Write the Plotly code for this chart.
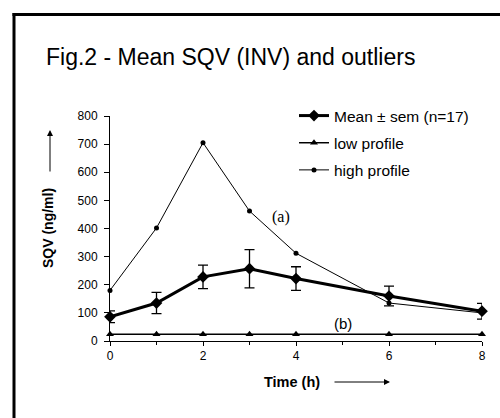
import plotly.graph_objects as go

time_h = [0, 1, 2, 3, 4, 6, 8]
mean_sqv = [86, 135, 228, 257, 222, 160, 106]
mean_sem = [21, 38, 42, 68, 42, 35, 28]
low_profile = [24, 24, 24, 24, 24, 24, 24]
high_profile = [180, 402, 705, 462, 312, 135, 100]
x_ticks = [0, 2, 4, 6, 8]
y_ticks = [0, 100, 200, 300, 400, 500, 600, 700, 800]

W, H = 500, 418
L, R, T, B = 110, 18, 116, 77
pw, ph = W - L - R, H - T - B

def px2paper_x(px):
    return (px - L) / pw

def px2paper_y(py):
    return (H - B - py) / ph

fig = go.Figure()
fig.add_trace(go.Scatter(
    x=time_h, y=mean_sqv, name="Mean ± sem (n=17)", legendgroup="a",
    mode="lines+markers",
    line=dict(color="black", width=3),
    marker=dict(symbol="diamond", size=9, color="black"),
    error_y=dict(type="data", array=mean_sem, visible=True, color="black", thickness=1.3, width=5),
    cliponaxis=False,
))
fig.add_trace(go.Scatter(
    x=time_h, y=low_profile, name="low profile", legendgroup="b",
    mode="lines+markers",
    line=dict(color="black", width=1.5),
    marker=dict(symbol="triangle-up", size=7, color="black"),
    cliponaxis=False,
))
fig.add_trace(go.Scatter(
    x=time_h, y=high_profile, name="high profile", legendgroup="c",
    mode="lines+markers",
    line=dict(color="black", width=1),
    marker=dict(symbol="circle", size=5, color="black"),
    cliponaxis=False,
))

fig.update_layout(
    width=W, height=H,
    margin=dict(l=L, r=R, t=T, b=B, pad=0),
    paper_bgcolor="white", plot_bgcolor="white",
    font=dict(family="Liberation Sans, Arial, sans-serif", color="black"),
    showlegend=True,
    legend=dict(
        x=px2paper_x(294), y=px2paper_y(99), xanchor="left", yanchor="top",
        font=dict(size=15.5, color="black"), bgcolor="rgba(0,0,0,0)",
        tracegroupgap=4, itemwidth=30,
    ),
    xaxis=dict(
        range=[0, 8], tickvals=x_ticks, showgrid=False, zeroline=False,
        showline=True, linecolor="black", linewidth=1,
        ticks="outside", ticklen=4, tickcolor="black",
        minor=dict(dtick=1, ticks="outside", ticklen=3, tickcolor="black"),
        tickfont=dict(size=12, color="black"),
    ),
    yaxis=dict(
        range=[0, 800], tickvals=y_ticks, showgrid=False, zeroline=False,
        showline=True, linecolor="black", linewidth=1,
        ticks="outside", ticklen=5, tickcolor="black", ticklabelstandoff=4,
        tickfont=dict(size=12, color="black"),
    ),
    annotations=[
        dict(text="Fig.2 - Mean SQV (INV) and outliers", xref="paper", yref="paper",
             x=px2paper_x(44), y=px2paper_y(57), xanchor="left", yanchor="middle",
             showarrow=False, font=dict(size=23, color="black")),
        dict(text="<b>SQV (ng/ml)</b>", xref="paper", yref="paper",
             x=px2paper_x(48), y=px2paper_y(228), xanchor="center", yanchor="middle",
             textangle=-90, showarrow=False, font=dict(size=14, color="black")),
        dict(text="<b>Time (h)</b>", xref="paper", yref="paper",
             x=px2paper_x(292), y=px2paper_y(382), xanchor="center", yanchor="middle",
             showarrow=False, font=dict(size=14.5, color="black")),
        dict(text="(a)", xref="paper", yref="paper",
             x=px2paper_x(281), y=px2paper_y(217), xanchor="center", yanchor="middle",
             showarrow=False, font=dict(size=16, color="black", family="Liberation Serif, Times New Roman, serif")),
        dict(text="(b)", xref="paper", yref="paper",
             x=px2paper_x(343), y=px2paper_y(323), xanchor="center", yanchor="middle",
             showarrow=False, font=dict(size=15, color="black")),
        # y-title arrow
        dict(xref="paper", yref="paper", axref="pixel", ayref="pixel",
             x=px2paper_x(50), y=px2paper_y(130), ax=0, ay=43,
             text="", showarrow=True, arrowhead=2, arrowsize=1.2, arrowwidth=1, arrowcolor="black"),
        # x-title arrow
        dict(xref="paper", yref="paper", axref="pixel", ayref="pixel",
             x=px2paper_x(390), y=px2paper_y(382), ax=-57, ay=0,
             text="", showarrow=True, arrowhead=2, arrowsize=1.2, arrowwidth=1, arrowcolor="black"),
    ],
    shapes=[
        # frame drawn as thin filled bars (left and top edges)
        dict(type="rect", xref="paper", yref="paper",
             x0=px2paper_x(12.5), x1=px2paper_x(15.5), y0=px2paper_y(418), y1=px2paper_y(13),
             line=dict(width=0), fillcolor="black"),
        dict(type="rect", xref="paper", yref="paper",
             x0=px2paper_x(12.5), x1=px2paper_x(500), y0=px2paper_y(16), y1=px2paper_y(13),
             line=dict(width=0), fillcolor="black"),
    ],
)

fig.write_html("out.html")
